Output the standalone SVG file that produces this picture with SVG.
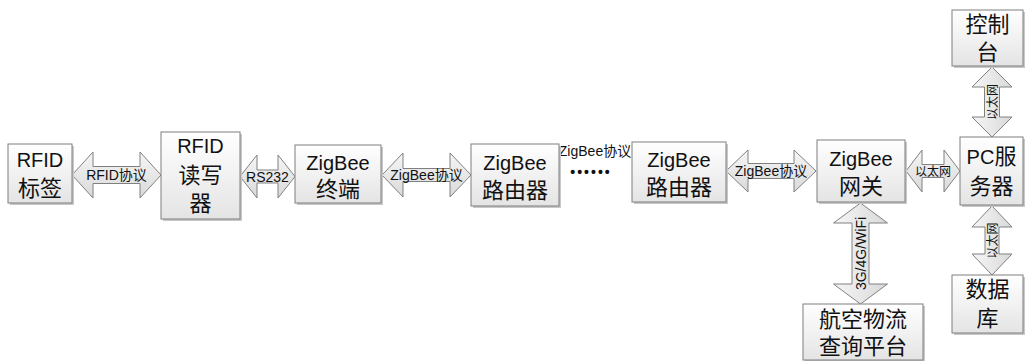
<svg xmlns="http://www.w3.org/2000/svg" width="1027" height="361" viewBox="0 0 1027 361">
<defs>
<linearGradient id="gBox" x1="0" y1="0" x2="0" y2="1">
<stop offset="0" stop-color="#ffffff"/>
<stop offset="1" stop-color="#e4e4e4"/>
</linearGradient>
<linearGradient id="gArr" x1="0" y1="0" x2="0" y2="1">
<stop offset="0" stop-color="#f6f6f6"/>
<stop offset="1" stop-color="#d9d9d9"/>
</linearGradient>
<linearGradient id="gArrV" x1="0" y1="0" x2="1" y2="0">
<stop offset="0" stop-color="#f6f6f6"/>
<stop offset="1" stop-color="#d9d9d9"/>
</linearGradient>
</defs>
<style>
.box{fill:url(#gBox);stroke:#7f7f7f;stroke-width:1}
.shadow{fill:#c8c8c8}
.arr{fill:url(#gArr);stroke:#808080;stroke-width:1}
.arrv{fill:url(#gArrV);stroke:#808080;stroke-width:1}
.t{font-family:"Liberation Sans","Noto Sans CJK SC",sans-serif;font-size:22px;fill:#111;text-anchor:middle}
.lat{font-size:20px}
.lbl{font-family:"Liberation Sans","Noto Sans CJK SC",sans-serif;font-size:14px;fill:#111;text-anchor:middle}
.sm{font-size:12px}
</style>
<rect width="1027" height="361" fill="#ffffff"/>

<g id="connectors">
<path class="arr" d="M72,175 L93,152 L93,166.5 L140,166.5 L140,152 L161,175 L140,198 L140,183.5 L93,183.5 L93,198 Z"/>
<text class="lbl" x="116.5" y="180">RFID协议</text>
<path class="arr" d="M240,176.5 L257,155 L257,170 L278,170 L278,155 L295,176.5 L278,198 L278,183 L257,183 L257,198 Z"/>
<text class="lbl" x="267.5" y="181.5">RS232</text>
<path class="arr" d="M382,175 L403,153 L403,168.5 L450,168.5 L450,153 L471,175 L450,197 L450,181.5 L403,181.5 L403,197 Z"/>
<text class="lbl" x="426.5" y="180">ZigBee协议</text>
<text class="lbl" x="595" y="156">ZigBee协议</text>
<text class="lbl" x="591" y="177" style="letter-spacing:2px;font-weight:bold">••••••</text>
<path class="arr" d="M726,171 L748,150 L748,163.5 L794,163.5 L794,150 L816,171 L794,192 L794,178.5 L748,178.5 L748,192 Z"/>
<text class="lbl" x="771" y="176">ZigBee协议</text>
<path class="arr" d="M906,171 L922,150 L922,164.5 L944,164.5 L944,150 L960,171 L944,192 L944,177.5 L922,177.5 L922,192 Z"/>
<text class="lbl sm" x="933" y="175.5">以太网</text>
<path class="arrv" d="M992,67 L1012,87 L999.5,87 L999.5,117 L1012,117 L992,137 L972,117 L984.5,117 L984.5,87 L972,87 Z"/>
<text class="lbl sm" transform="translate(996.5,102) rotate(-90)">以太网</text>
<path class="arrv" d="M992,206 L1012,227 L999,227 L999,254 L1012,254 L992,275 L972,254 L985,254 L985,227 L972,227 Z"/>
<text class="lbl sm" transform="translate(996.5,240.5) rotate(-90)">以太网</text>
<path class="arrv" d="M860.5,203 L887.5,223 L869,223 L869,284 L887.5,284 L860.5,304 L833.5,284 L852,284 L852,223 L833.5,223 Z"/>
<text class="lbl" transform="translate(865.5,253.5) rotate(-90)">3G/4G/WiFi</text>
</g>

<g id="n-rfid-tag">
<rect class="shadow" x="10" y="146" width="64" height="59"/>
<rect class="box" x="8" y="144" width="64" height="59"/>
<text class="t lat" x="40" y="167">RFID</text>
<text class="t" x="40" y="196">标签</text>
</g>
<g id="n-rfid-reader">
<rect class="shadow" x="163" y="134" width="79" height="87"/>
<rect class="box" x="161" y="132" width="79" height="87"/>
<text class="t lat" x="200.5" y="153">RFID</text>
<text class="t" x="200.5" y="183">读写</text>
<text class="t" x="200.5" y="211">器</text>
</g>
<g id="n-zb-end">
<rect class="shadow" x="297" y="147" width="86" height="58"/>
<rect class="box" x="295" y="145" width="86" height="58"/>
<text class="t lat" x="338" y="170">ZigBee</text>
<text class="t" x="338" y="197">终端</text>
</g>
<g id="n-zb-router1">
<rect class="shadow" x="473" y="146" width="88" height="62"/>
<rect class="box" x="471" y="144" width="88" height="62"/>
<text class="t lat" x="515" y="170">ZigBee</text>
<text class="t" x="515" y="198">路由器</text>
</g>
<g id="n-zb-router2">
<rect class="shadow" x="634" y="144" width="94" height="60"/>
<rect class="box" x="632" y="142" width="94" height="60"/>
<text class="t lat" x="679" y="167">ZigBee</text>
<text class="t" x="679" y="195">路由器</text>
</g>
<g id="n-zb-gateway">
<rect class="shadow" x="819" y="142" width="88" height="62"/>
<rect class="box" x="817" y="140" width="88" height="62"/>
<text class="t lat" x="861" y="166">ZigBee</text>
<text class="t" x="861" y="194">网关</text>
</g>
<g id="n-pc">
<rect class="shadow" x="962" y="139" width="63" height="68"/>
<rect class="box" x="960" y="137" width="63" height="68"/>
<text class="t" x="991.5" y="164"><tspan style="font-size:20px">PC</tspan>服</text>
<text class="t" x="991.5" y="194">务器</text>
</g>
<g id="n-console">
<rect class="shadow" x="954" y="12" width="71" height="56"/>
<rect class="box" x="952" y="10" width="71" height="56"/>
<text class="t" x="987.5" y="32">控制</text>
<text class="t" x="987.5" y="60">台</text>
</g>
<g id="n-db">
<rect class="shadow" x="954" y="277" width="71" height="58"/>
<rect class="box" x="952" y="275" width="71" height="58"/>
<text class="t" x="987.5" y="297">数据</text>
<text class="t" x="987.5" y="326">库</text>
</g>
<g id="n-platform">
<rect class="shadow" x="805" y="306" width="120" height="56"/>
<rect class="box" x="803" y="304" width="120" height="56"/>
<text class="t" x="863" y="327">航空物流</text>
<text class="t" x="863" y="354">查询平台</text>
</g>
</svg>
